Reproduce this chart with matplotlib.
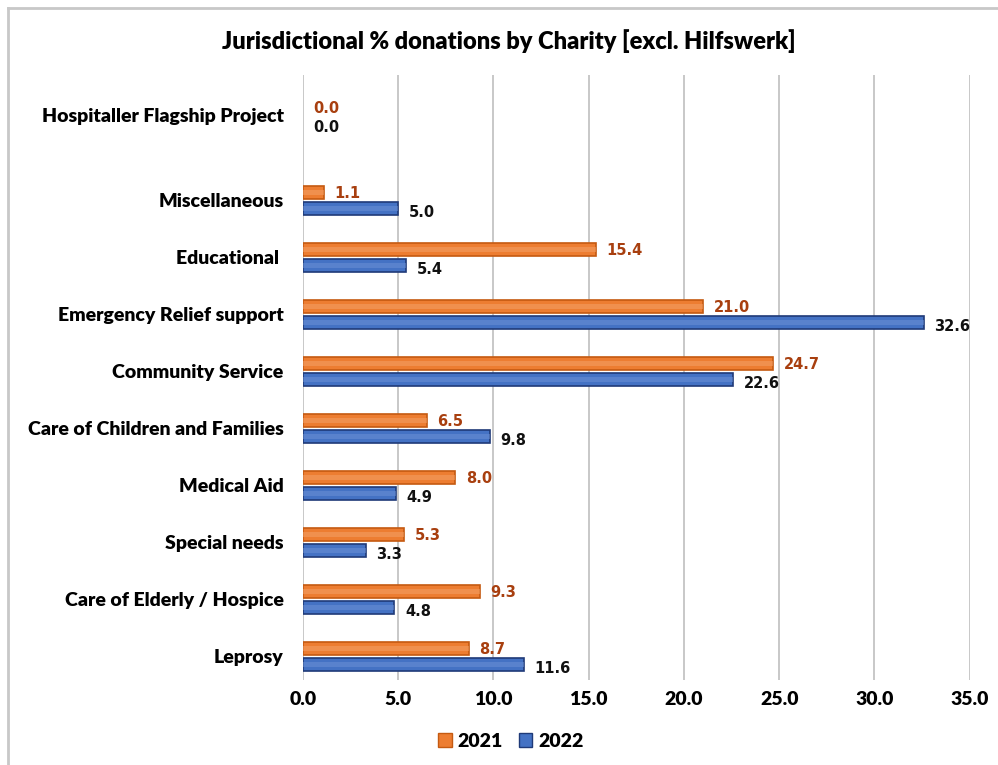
import matplotlib.pyplot as plt
from matplotlib.lines import Line2D
from matplotlib.patches import Rectangle

categories = ['Leprosy', 'Care of Elderly / Hospice', 'Special needs', 'Medical Aid',
              'Care of Children and Families', 'Community Service',
              'Emergency Relief support', 'Educational ', 'Miscellaneous',
              'Hospitaller Flagship Project']
vals_2021 = [8.7, 9.3, 5.3, 8.0, 6.5, 24.7, 21.0, 15.4, 1.1, 0.0]
vals_2022 = [11.6, 4.8, 3.3, 4.9, 9.8, 22.6, 32.6, 5.4, 5.0, 0.0]
xticks = [0, 5, 10, 15, 20, 25, 30, 35]

# the top category sits a bit further up in the original
ypos = [0, 1, 2, 3, 4, 5, 6, 7, 8, 9.5]

orange, orange_edge, orange_txt = '#ED7D31', '#C55A11', '#A83F0F'
blue, blue_edge, blue_txt = '#4472C4', '#1F3A78', '#111111'

fig = plt.figure(figsize=(9.98, 7.65), dpi=100)
ax = fig.add_axes([0.3036, 0.111, 0.668, 0.791])

h = 0.23
off = 0.14
y21 = [y + off for y in ypos]
y22 = [y - off for y in ypos]

lw21 = [1.2 if v > 0 else 0 for v in vals_2021]
lw22 = [1.2 if v > 0 else 0 for v in vals_2022]
b21 = ax.barh(y21, vals_2021, height=h, color=orange, edgecolor=orange_edge, linewidth=lw21, zorder=3)
b22 = ax.barh(y22, vals_2022, height=h, color=blue, edgecolor=blue_edge, linewidth=lw22, zorder=3)

# soft highlight stripe to mimic the gradient fill
for bars, hl in ((b21, '#F4A36B'), (b22, '#6E93D6')):
    for r in bars:
        if r.get_width() > 0:
            ax.add_patch(Rectangle((r.get_x(), r.get_y() + r.get_height() * 0.3),
                                   r.get_width(), r.get_height() * 0.35,
                                   color=hl, alpha=0.5, linewidth=0, zorder=4))

lab_font = dict(family='DejaVu Sans', fontsize=10.5, fontweight='bold')
for y, v in zip(y21, vals_2021):
    ax.text(v + 0.55, y - 0.02, f'{v:.1f}', color=orange_txt, va='center', ha='left', **lab_font)
for y, v in zip(y22, vals_2022):
    ax.text(v + 0.55, y - 0.08, f'{v:.1f}', color=blue_txt, va='center', ha='left', **lab_font)

cal = dict(family='Lato', fontweight='heavy')
ax.set_xlim(0, 35)
ax.set_ylim(-0.42, 10.2)
ax.set_xticks(xticks)
ax.set_xticklabels([f'{t:.1f}' for t in xticks], fontsize=14, **cal)
ax.set_yticks(ypos)
ax.set_yticklabels(categories, fontsize=14, **cal)
ax.tick_params(length=0, pad=14)
ax.tick_params(axis='x', pad=8)
for s in ax.spines.values():
    s.set_visible(False)
ax.grid(axis='x', color='#BFBFBF', linewidth=1.2, zorder=0)
ax.set_axisbelow(True)

fig.suptitle('Jurisdictional % donations by Charity [excl. Hilfswerk]',
             x=0.51, y=0.962, fontsize=17, **cal)

handles = [Rectangle((0, 0), 1, 1, facecolor=orange, edgecolor=orange_edge),
           Rectangle((0, 0), 1, 1, facecolor=blue, edgecolor=blue_edge)]
fig.legend(handles, ['2021', '2022'], loc='center', bbox_to_anchor=(0.512, 0.031),
           ncol=2, frameon=False, handlelength=0.7, handleheight=0.7,
           handletextpad=0.3, columnspacing=0.8,
           prop=dict(family='Lato', weight='heavy', size=14))

# outer frame lines (top and left only visible in the original)
fig.add_artist(Line2D([0.0085, 1.0], [0.99, 0.99], color='#C8C8C8', linewidth=2, transform=fig.transFigure))
fig.add_artist(Line2D([0.0085, 0.0085], [0.0, 0.99], color='#C8C8C8', linewidth=2, transform=fig.transFigure))

fig.savefig('out.png', dpi=100)
